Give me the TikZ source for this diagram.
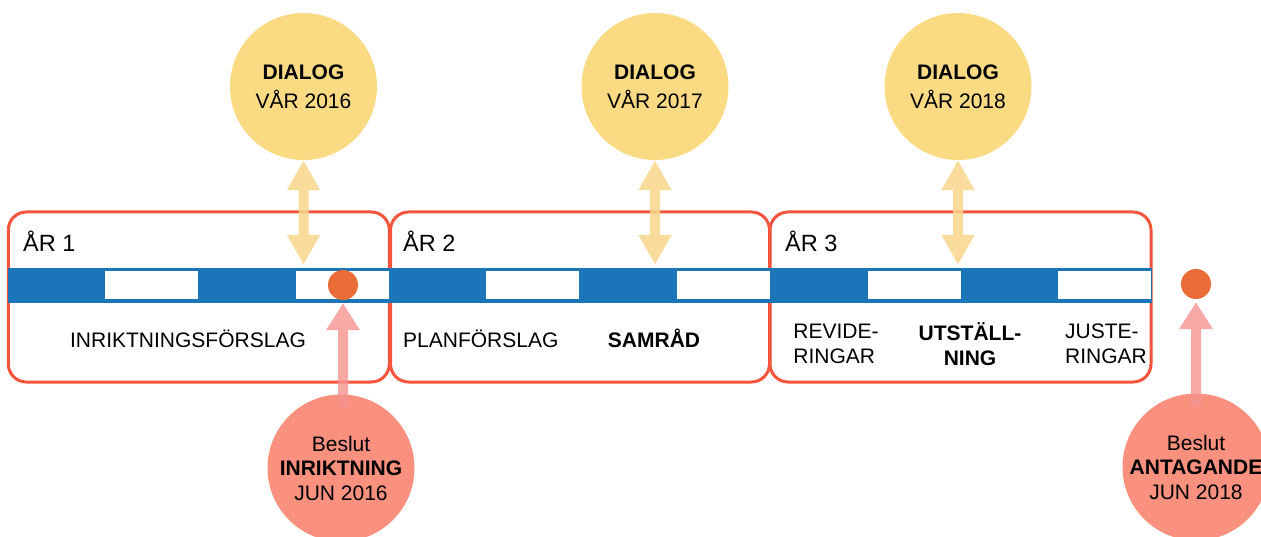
\documentclass[tikz,border=0pt]{standalone}
\usepackage{fontspec}
\setmainfont{Liberation Sans}
\usetikzlibrary{arrows.meta}

\definecolor{boxred}{HTML}{F4553C}
\definecolor{barblue}{HTML}{1A75B9}
\definecolor{dotorange}{HTML}{EA6C36}
\definecolor{dialogyellow}{HTML}{FADA82}
\definecolor{arrowyellow}{HTML}{F8D58A}
\definecolor{beslutred}{HTML}{F9917E}
\definecolor{arrowred}{HTML}{F59390}

\begin{document}
\begin{tikzpicture}[x=1pt,y=-1pt,
        every node/.style={inner sep=0pt,font=\fontsize{21}{25}\selectfont},
        yearbox/.style={draw=boxred,line width=3pt,rounded corners=18pt,minimum width=381pt,minimum height=170pt},
        yearlabel/.style={anchor=base west,font=\fontsize{23.5}{28}\selectfont},
        bar/.style={fill=barblue,minimum width=1144pt,minimum height=35pt},
        gap/.style={fill=white,minimum width=93.3pt,minimum height=28pt},
        dot/.style={circle,fill=dotorange,minimum size=30pt},
        dialog/.style={circle,fill=dialogyellow,minimum size=147pt,align=center,font=\fontsize{21}{29}\selectfont},
        beslut/.style={circle,fill=beslutred,minimum size=147pt,align=center,font=\fontsize{21}{24.5}\selectfont},
        dialogarrow/.style={arrowyellow,line width=10pt,{Triangle[width=31pt,length=30pt]}-{Triangle[width=31pt,length=30pt]}},
        beslutarrow/.style={arrowred,line width=10pt,-{Triangle[width=32pt,length=27pt]}}]

    \useasboundingbox (0,0) rectangle (1261,537);

    % years
    \node[yearbox] (box1) at (198.8,297) {};
    \node[yearbox,minimum width=379pt] (box2) at (580,297) {};
    \node[yearbox] (box3) at (960.5,297) {};

    \node[yearlabel] (year1) at (23,252) {ÅR 1};
    \node[yearlabel] (year2) at (403,252) {ÅR 2};
    \node[yearlabel] (year3) at (785,252) {ÅR 3};

    % timeline
    \node[bar] (bar) at (580,285.5) {};
    \foreach \i in {1,3,5,7,9,11}
        \node[gap] (gap\i) at ({8+95.333*\i+1.5+46.65},285) {};

    \node[dot] (dot1) at (343,285) {};
    \node[dot] (dot2) at (1196,284) {};

    % phases
    \node[anchor=base] (p1) at (188,348) {INRIKTNINGSFÖRSLAG};
    \node[anchor=base west] (p2) at (403,348) {PLANFÖRSLAG};
    \node[anchor=base] (p3) at (654,348) {\textbf{SAMRÅD}};
    \node[align=left] (p4) at (836,344) {REVIDE-\\RINGAR};
    \node[align=center] (p5) at (970,344) {\textbf{UTSTÄLL-}\\\textbf{NING}};
    \node[align=left] (p6) at (1106,344) {JUSTE-\\RINGAR};

    % dialogues
    \node[dialog] (dlg1) at (303.5,86.5) {\textbf{DIALOG}\\VÅR 2016};
    \node[dialog] (dlg2) at (655,86.5) {\textbf{DIALOG}\\VÅR 2017};
    \node[dialog] (dlg3) at (958,86.5) {\textbf{DIALOG}\\VÅR 2018};

    \foreach \n in {1,2,3}{
        \begin{scope}[transparency group,opacity=0.85]
            \draw[dialogarrow,shorten >=3pt] (dlg\n.south) -- (dlg\n.south |- bar.north);
        \end{scope}
    }

    % decisions
    \node[beslut] (b1) at (341,468) {Beslut\\\textbf{INRIKTNING}\\JUN 2016};
    \node[beslut] (b2) at (1196,467) {Beslut\\\textbf{ANTAGANDE}\\JUN 2018};

    \foreach \n in {1,2}{
        \begin{scope}[transparency group,opacity=0.8]
            \draw[beslutarrow,shorten >=3pt] ([yshift=-13pt]dot\n |- b\n.north) -- (dot\n.south);
        \end{scope}
    }
\end{tikzpicture}
\end{document}
